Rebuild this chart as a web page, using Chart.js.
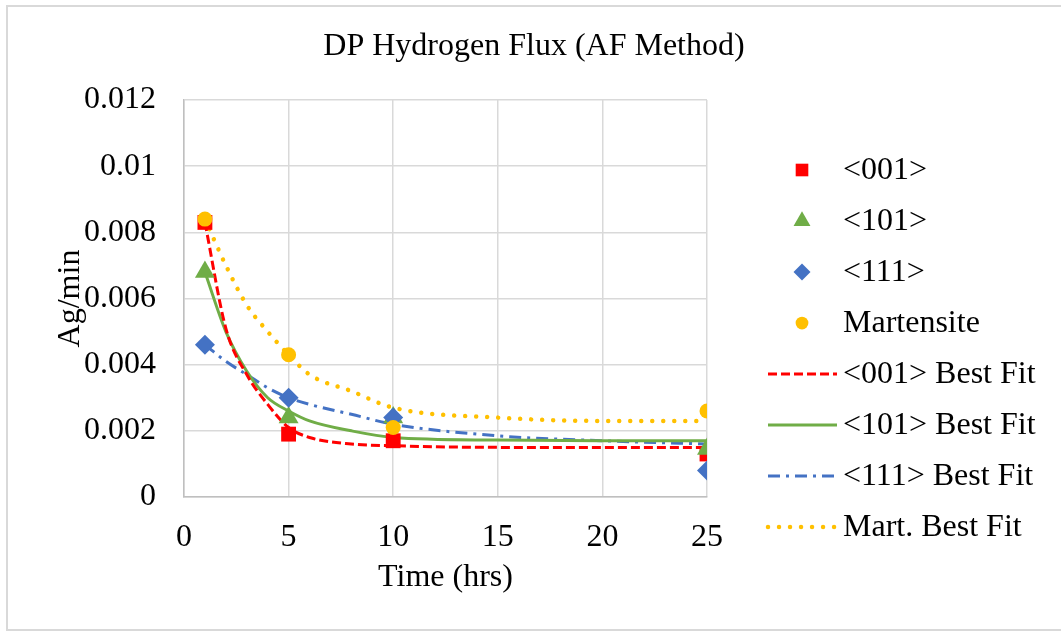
<!DOCTYPE html>
<html>
<head>
<meta charset="utf-8">
<script src="https://cdn.jsdelivr.net/npm/chart.js@4/dist/chart.umd.min.js"></script>
<style>
  html, body { margin: 0; padding: 0; background: #fff; }
  #wrap { width: 1061px; height: 634px; }
</style>
</head>
<body>
<div id="wrap"><canvas id="flux-chart" width="1061" height="634"></canvas></div>
<script>
// measured points (hrs vs Ag/min)
var times = [1, 5, 10, 25];
var flux001 = [0.0083, 0.0019, 0.0017, 0.0013];
var flux101 = [0.0068, 0.0024, 0.0024, 0.00145];
var flux111 = [0.0046, 0.0030, 0.0024, 0.0008];
var fluxMart = [0.0084, 0.0043, 0.0021, 0.0026];

// best fit curves
var fitTimes = [1, 2, 3, 4, 5, 6, 8, 10, 15, 20, 25];
var fit001 = [0.0083, 0.0051, 0.0037, 0.0028, 0.0021, 0.0018, 0.0016, 0.00155, 0.0015, 0.0015, 0.0015];
var fit101 = [0.0068, 0.0050, 0.0038, 0.0030, 0.0026, 0.0023, 0.0020, 0.0018, 0.00172, 0.0017, 0.0017];
var fit111 = [0.0046, 0.0041, 0.0037, 0.0033, 0.0030, 0.0028, 0.0025, 0.0022, 0.00185, 0.0017, 0.0016];
var fitMart = [0.0084, 0.0070, 0.0058, 0.0050, 0.0043, 0.0037, 0.0032, 0.0027, 0.0024, 0.0023, 0.0023];

var yTickLabels = ["0", "0.002", "0.004", "0.006", "0.008", "0.01", "0.012"];
var xTickLabels = ["0", "5", "10", "15", "20", "25"];

var TITLE = 'DP Hydrogen Flux (AF Method)';
var RED = '#FF0000', GREEN = '#70AD47', BLUE = '#4472C4', GOLD = '#FFC000';
var FONT = "'Liberation Serif', 'Times New Roman', serif";

function pts(xs, ys) {
  return xs.map(function (x, i) { return { x: x, y: ys[i] }; });
}

function markerSet(label, ys, color, style, r, order) {
  return {
    label: label, data: pts(times, ys), showLine: false, order: order,
    pointStyle: style, pointRadius: r, pointHoverRadius: r,
    backgroundColor: color, borderColor: color, pointBorderWidth: 0
  };
}

function fitSet(label, ys, color, dash, width, cap) {
  return {
    label: label, data: pts(fitTimes, ys), showLine: true, order: 10,
    pointRadius: 0, borderColor: color, backgroundColor: color,
    borderWidth: width, borderDash: dash, borderCapStyle: cap || 'butt',
    cubicInterpolationMode: 'monotone', fill: false
  };
}

var datasets = [
  markerSet('<001>', flux001, RED, 'rect', 10.5, 4),
  markerSet('<101>', flux101, GREEN, 'triangle', 11.5, 3),
  markerSet('<111>', flux111, BLUE, 'rectRot', 10, 2),
  markerSet('Martensite', fluxMart, GOLD, 'circle', 7.5, 1),
  fitSet('<001> Best Fit', fit001, RED, [9, 4], 3),
  fitSet('<101> Best Fit', fit101, GREEN, [], 3),
  fitSet('<111> Best Fit', fit111, BLUE, [12, 6, 3, 6], 3),
  fitSet('Mart. Best Fit', fitMart, GOLD, [0.01, 11], 4.5, 'round')
];

// outer frame, centred title and legend on the right, Excel-ish
var frameAndLegend = {
  id: 'frameAndLegend',
  beforeDraw: function (chart) {
    var c = chart.ctx;
    c.save();
    c.fillStyle = '#fff';
    c.fillRect(0, 0, chart.width, chart.height);
    c.strokeStyle = '#D9D9D9';
    c.lineWidth = 2;
    c.strokeRect(7, 6, chart.width + 10, 624);
    c.restore();
  },
  afterDraw: function (chart) {
    var c = chart.ctx;
    var top = 170, step = 51, markX = 802, textX = 843;
    c.save();
    c.fillStyle = '#000';
    c.font = '32px ' + FONT;
    c.textAlign = 'center';
    c.textBaseline = 'middle';
    c.fillText(TITLE, 534, 47);
    c.textAlign = 'left';
    chart.data.datasets.forEach(function (ds, i) {
      var y = top + i * step;
      if (ds.showLine) {
        c.beginPath();
        c.strokeStyle = ds.borderColor;
        c.lineWidth = ds.borderWidth;
        c.lineCap = ds.borderCapStyle;
        c.setLineDash(ds.borderDash);
        c.moveTo(768, y);
        c.lineTo(837, y);
        c.stroke();
        c.setLineDash([]);
      } else {
        c.fillStyle = ds.backgroundColor;
        c.strokeStyle = ds.borderColor;
        Chart.helpers.drawPoint(c, { pointStyle: ds.pointStyle, radius: ds.pointRadius * 0.85, rotation: 0, borderWidth: 0 }, markX, y);
      }
      c.fillStyle = '#000';
      c.fillText(ds.label, textX, y + 1);
    });
    c.restore();
  }
};

var ctx = document.getElementById('flux-chart').getContext('2d');
var chart = new Chart(ctx, {
  type: 'scatter',
  data: { datasets: datasets },
  plugins: [frameAndLegend],
  options: {
    responsive: false,
    animation: false,
    events: [],
    layout: { padding: { left: 0, right: 354, top: 100, bottom: 0 } },
    plugins: {
      legend: { display: false },
      tooltip: { enabled: false },
      title: { display: false }
    },
    scales: {
      x: {
        type: 'linear', min: 0, max: 25,
        afterFit: function (s) { s.height = 137; },
        ticks: {
          stepSize: 5, color: '#000', padding: 21,
          font: { family: FONT, size: 32 },
          callback: function (v, i) { return xTickLabels[i]; }
        },
        grid: { color: '#D9D9D9', lineWidth: 1.5, drawTicks: false },
        border: { color: '#BFBFBF', width: 1.5 },
        title: {
          display: true, text: 'Time (hrs)', color: '#000',
          font: { family: FONT, size: 32 }, padding: { top: 0, bottom: 37 }
        }
      },
      y: {
        type: 'linear', min: 0, max: 0.012,
        afterFit: function (s) { s.width = 184; },
        ticks: {
          stepSize: 0.002, color: '#000', padding: 28,
          font: { family: FONT, size: 32 },
          callback: function (v, i) { return yTickLabels[i]; }
        },
        grid: { color: '#D9D9D9', lineWidth: 1.5, drawTicks: false },
        border: { color: '#BFBFBF', width: 1.5 },
        title: {
          display: true, text: 'Ag/min', color: '#000',
          font: { family: FONT, size: 32 }, padding: { top: 51, bottom: 0 }
        }
      }
    }
  }
});
</script>
</body>
</html>
